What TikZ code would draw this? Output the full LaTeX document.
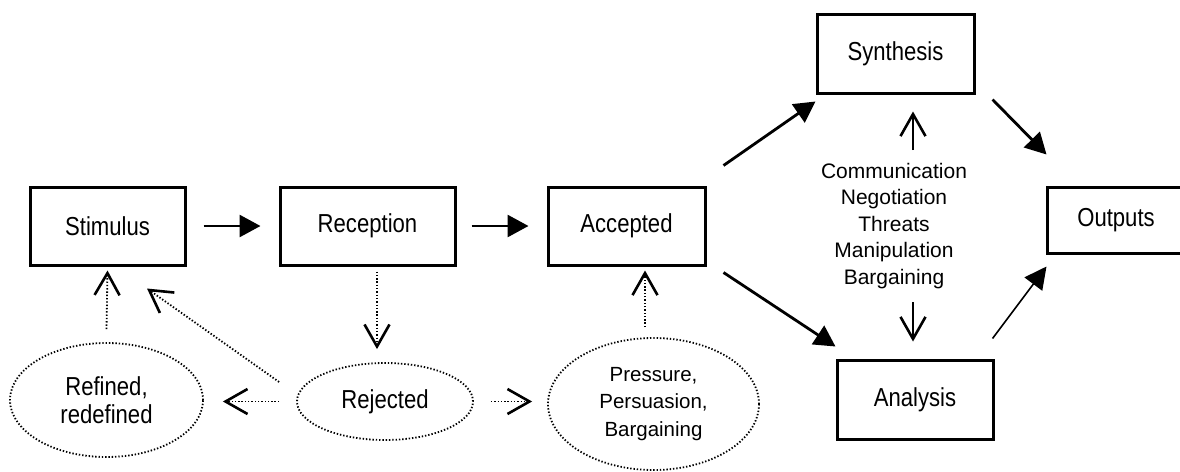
\documentclass[tikz,border=0pt]{standalone}
\usepackage{fontspec}
\setmainfont{Liberation Sans}
\newfontfamily\narrowfont{Liberation Sans}[FakeStretch=0.85]
\usetikzlibrary{arrows.meta,shapes.geometric}

\begin{document}
\begin{tikzpicture}[x=1pt,y=-1pt,
  box/.style={draw, line width=3pt, inner sep=0pt, font=\narrowfont\fontsize{26}{30}\selectfont},
  oval/.style={ellipse, draw, line width=1.8pt, dash pattern=on 1.4pt off 1.9pt, inner sep=0pt, align=center},
  arr/.style={line width=2.8pt, -{Triangle[length=21pt,width=22pt]}},
  thinarr/.style={line width=1.6pt, -{Triangle[length=22pt,width=22pt]}},
  openarr/.style={line width=1.6pt, -{Straight Barb[length=22pt,width=25pt,line width=2.6pt]}},
  dotarr/.style={line width=1.8pt, dash pattern=on 1.4pt off 1.9pt, -{Straight Barb[length=22pt,width=25pt,line width=2.6pt]}}
]
\useasboundingbox (0,0) rectangle (1180,471);

% boxes
\node[box, minimum width=155pt, minimum height=78pt] (stim) at (107.5,226) {Stimulus};
\node[box, minimum width=175pt, minimum height=78pt] (rec) at (367.5,226) {Reception};
\node[box, minimum width=157pt, minimum height=78pt] (acc) at (626.5,226) {Accepted};
\node[box, minimum width=157pt, minimum height=79pt] (syn) at (895.5,53.5) {Synthesis};
\node[box, minimum width=156pt, minimum height=79pt] (ana) at (915,399.5) {Analysis};
\node[box, minimum width=138pt, minimum height=66pt] (out) at (1116,220) {Outputs};

% middle text
\node[align=center, inner sep=0pt, font=\fontsize{21}{26.5}\selectfont] (mid) at (894,226)
  {Communication\\Negotiation\\Threats\\Manipulation\\Bargaining};

% ovals
\node[oval, minimum width=193pt, minimum height=114pt, font=\narrowfont\fontsize{26}{28}\selectfont] (ref) at (106.5,400) {Refined,\\redefined};
\node[oval, minimum width=176pt, minimum height=77pt, font=\narrowfont\fontsize{26}{28}\selectfont] (rej) at (385,401.5) {Rejected};
\node[oval, minimum width=211pt, minimum height=132pt, font=\fontsize{20.5}{27.5}\selectfont] (pre) at (653.5,404) {Pressure,\\Persuasion,\\Bargaining};

% solid arrows
\draw[arr, shorten <=17pt, shorten >=18pt] (stim.east) -- (rec.west);
\draw[arr, shorten <=15pt, shorten >=18pt] (rec.east) -- (acc.west);
\draw[arr] ([xshift=17pt,yshift=20pt]acc.north east) -- ([yshift=-7pt]syn.south west);
\draw[arr] ([xshift=17pt,yshift=-5pt]syn.south east) -- ([xshift=1pt,yshift=31pt]out.north west);
\draw[arr] ([xshift=17pt,yshift=-6pt]acc.south east) -- ([yshift=12pt]ana.north west);
\draw[thinarr] ([xshift=-2pt,yshift=20pt]ana.north east) -- ([xshift=1pt,yshift=-12pt]out.south west);

% middle open arrows
\coordinate (upS) at (913,150);
\coordinate (dnS) at (913,302);
\draw[openarr] (upS) -- ([xshift=17.5pt,yshift=-17pt]syn.south);
\draw[openarr] (dnS) -- ([xshift=-2pt,yshift=17pt]ana.north);

% dotted arrows
\draw[dotarr] ([yshift=13pt]ref.north) -- ([yshift=-4pt]stim.south);
\draw[dotarr] ([xshift=-17pt,yshift=19.5pt]rej.west) -- ([xshift=39.5pt,yshift=-22pt]stim.south);
\draw[dotarr, shorten <=17pt, shorten >=19pt] (rej.west) -- (rej.west -| ref.east);
\draw[dotarr] ([xshift=9.5pt,yshift=-5pt]rec.south) -- ([xshift=-8pt,yshift=13pt]rej.north);
\draw[dotarr, shorten <=17pt, shorten >=15pt] (rej.east) -- (rej.east -| pre.west);
\draw[dotarr] ([xshift=-8.5pt,yshift=10pt]pre.north) -- ([xshift=18.5pt,yshift=-4pt]acc.south);
\end{tikzpicture}
\end{document}
